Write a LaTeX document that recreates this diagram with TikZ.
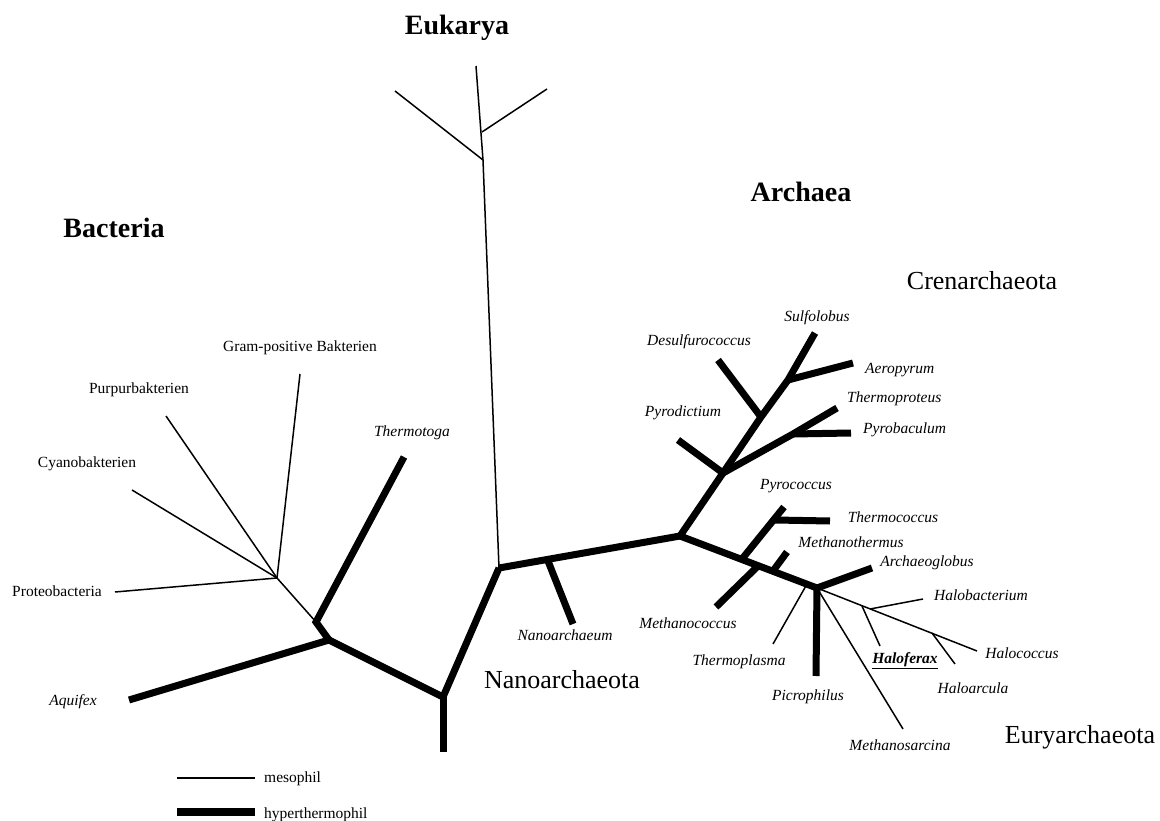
\documentclass[tikz,border=0pt]{standalone}
\usepackage{fontspec}
\setmainfont{Liberation Serif}
\tikzset{
  meso/.style={line width=1.5pt},
  hyper/.style={line width=7pt},
  lab/.style={font=\fontsize{15.5}{18}\selectfont\itshape, anchor=base, inner sep=0pt},
  rlab/.style={font=\fontsize{15.5}{18}\selectfont, anchor=base, inner sep=0pt},
  head/.style={font=\fontsize{28}{32}\selectfont\bfseries, anchor=base, inner sep=0pt},
  sub/.style={font=\fontsize{26}{30}\selectfont, anchor=base, inner sep=0pt}
}
\begin{document}
\begin{tikzpicture}[x=1pt,y=-1pt]
\useasboundingbox (0,0) rectangle (1160,821);
% coordinates
\coordinate (rootbot) at (443,752);
\coordinate (R1) at (443,697);
\coordinate (B1) at (329,640);
\coordinate (aqu) at (129,700);
\coordinate (B2) at (316,622);
\coordinate (tmt) at (404,457);
\coordinate (B3) at (277,578);
\coordinate (gram) at (300,374);
\coordinate (purp) at (166,416);
\coordinate (cyan) at (132,490);
\coordinate (prot) at (115,592);
\coordinate (N1) at (499,568);
\coordinate (eukN) at (483,160);
\coordinate (euk1) at (395,91);
\coordinate (eukTop) at (476,66);
\coordinate (eukR) at (482,132);
\coordinate (eukRend) at (547,89);
\coordinate (nanoN) at (548,561);
\coordinate (nanoE) at (573,624);
\coordinate (A) at (680,536);
\coordinate (C1) at (723,473);
\coordinate (pyd) at (678,440);
\coordinate (C2) at (761,417);
\coordinate (des) at (718,360);
\coordinate (C3) at (788,380);
\coordinate (sul) at (815,333);
\coordinate (aer) at (853,363);
\coordinate (C4) at (793,434);
\coordinate (thp) at (837,408);
\coordinate (pyb) at (851,433);
\coordinate (E) at (817,588);
\coordinate (P1) at (742,559);
\coordinate (pyc) at (784,507);
\coordinate (P2) at (775,520);
\coordinate (thc) at (830,521);
\coordinate (M1) at (758,566);
\coordinate (mcE) at (716,607);
\coordinate (M2) at (773,571);
\coordinate (mth) at (787,552);
\coordinate (T1) at (807,584);
\coordinate (tpl) at (773,644);
\coordinate (pic) at (816,676);
\coordinate (arc) at (872,568);
\coordinate (msa) at (903,729);
\coordinate (hcc) at (977,651);
\coordinate (H1) at (862,606);
\coordinate (hfx) at (880,646);
\coordinate (H2) at (870,609);
\coordinate (hbc) at (923,599);
\coordinate (H3) at (932,633);
\coordinate (har) at (955,664);
\coordinate (l1a) at (177,778);
\coordinate (l1b) at (255,778);
\coordinate (l2a) at (177,812);
\coordinate (l2b) at (255,812);

% mesophil branches
\draw[meso] (B2) -- (B3);
\draw[meso] (B3) -- (gram);
\draw[meso] (B3) -- (purp);
\draw[meso] (B3) -- (cyan);
\draw[meso] (B3) -- (prot);
\draw[meso] (N1) -- (eukN) -- (eukTop);
\draw[meso] (eukN) -- (euk1);
\draw[meso] (eukR) -- (eukRend);
\draw[meso] (T1) -- (tpl);
\draw[meso] (E) -- (msa);
\draw[meso] (E) -- (hcc);
\draw[meso] (H1) -- (hfx);
\draw[meso] (H2) -- (hbc);
\draw[meso] (H3) -- (har);

% hyperthermophil branches
\draw[hyper] (R1) -- (rootbot);
\draw[hyper] (N1) -- (R1) -- (B1) -- (aqu);
\draw[hyper] (B1) -- (B2) -- (tmt);
\draw[hyper] (N1) -- (A);
\draw[hyper] (nanoN) -- (nanoE);
\draw[hyper] (A) -- (C1) -- (C2) -- (C3) -- (sul);
\draw[hyper] (C1) -- (pyd);
\draw[hyper] (C2) -- (des);
\draw[hyper] (C3) -- (aer);
\draw[hyper] (C1) -- (C4) -- (thp);
\draw[hyper] (C4) -- (pyb);
\draw[hyper] (A) -- (E);
\draw[hyper] (P1) -- (pyc);
\draw[hyper] (P2) -- (thc);
\draw[hyper] (M1) -- (mcE);
\draw[hyper] (M2) -- (mth);
\draw[hyper] (E) -- (pic);
\draw[hyper] (E) -- (arc);

% legend
\draw[meso] (l1a) -- (l1b);
\draw[line width=8pt] (l2a) -- (l2b);
\node[rlab, anchor=base west] (tmeso) at (264,782) {mesophil};
\node[rlab, anchor=base west] (thyper) at (264,818) {hyperthermophil};

% headings
\node[head] (tEuk) at (457,35) {Eukarya};
\node[head] (tArc) at (801,202) {Archaea};
\node[head] (tBac) at (114,238) {Bacteria};
\node[sub] (tCren) at (982,290) {Crenarchaeota};
\node[sub] (tNano) at (562,688) {Nanoarchaeota};
\node[sub] (tEury) at (1080,743) {Euryarchaeota};

% bacteria labels
\node[lab] (lThermotoga) at (412,436) {Thermotoga};
\node[rlab] (lGram) at (300,352) {Gram-positive Bakterien};
\node[rlab] (lPurp) at (139,393) {Purpurbakterien};
\node[rlab] (lCyan) at (87,467) {Cyanobakterien};
\node[rlab] (lProt) at (57,596) {Proteobacteria};
\node[lab] (lAqu) at (73,705) {Aquifex};

% archaea labels
\node[lab] (lNano) at (565,640) {Nanoarchaeum};
\node[lab] (lSul) at (817,322) {Sulfolobus};
\node[lab] (lDes) at (699,345) {Desulfurococcus};
\node[lab, anchor=base west] (lAer) at (865,373) {Aeropyrum};
\node[lab, anchor=base west] (lThp) at (847,402) {Thermoproteus};
\node[lab, anchor=base west] (lPyb) at (863,433) {Pyrobaculum};
\node[lab] (lPyd) at (683,416) {Pyrodictium};
\node[lab] (lPyc) at (796,489) {Pyrococcus};
\node[lab] (lThc) at (893,522) {Thermococcus};
\node[lab] (lMth) at (851,547) {Methanothermus};
\node[lab] (lArc) at (927,566) {Archaeoglobus};
\node[lab] (lHbc) at (981,600) {Halobacterium};
\node[lab] (lHcc) at (1022,658) {Halococcus};
\node[lab] (lHfx) at (905,663) {\bfseries\underline{Haloferax}};
\node[lab] (lHar) at (973,693) {Haloarcula};
\node[lab] (lPic) at (808,700) {Picrophilus};
\node[lab] (lTpl) at (739,665) {Thermoplasma};
\node[lab] (lMsa) at (900,750) {Methanosarcina};
\node[lab] (lMcc) at (688,628) {Methanococcus};
\end{tikzpicture}
\end{document}
